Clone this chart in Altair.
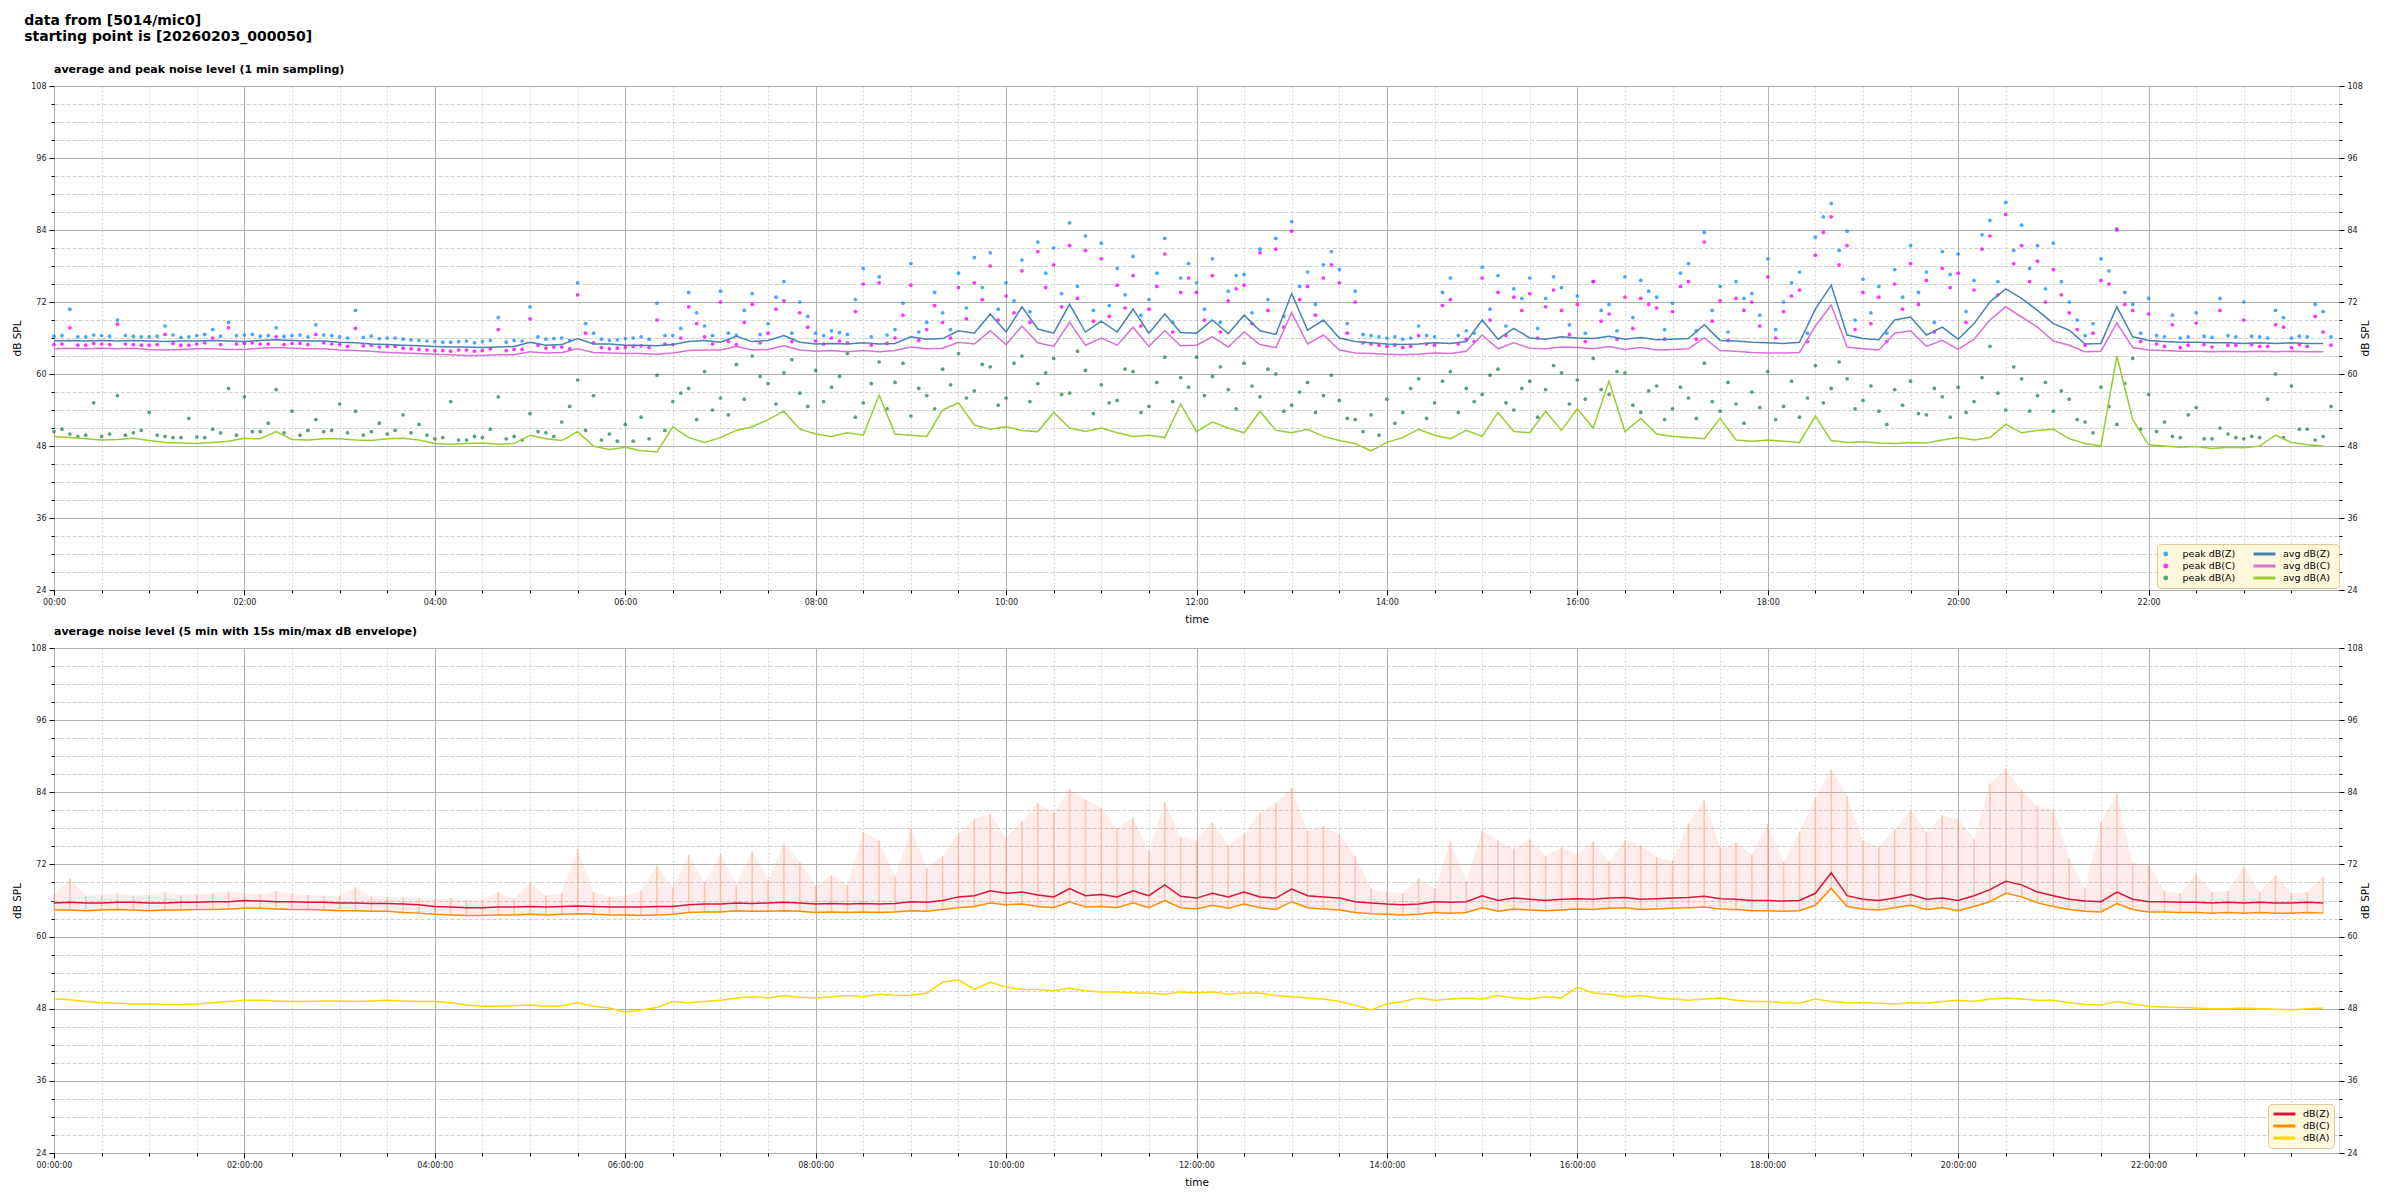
import altair as alt
import pandas as pd

# sampling grid: one reading every 10 minutes (minutes after midnight)
MINUTES = list(range(0, 1440, 10))
# extra peak readings taken half-way between (minute 5, 15, 25, ...)
MINUTES_HALF = list(range(5, 1440, 10))

# ---------------- top panel: 1-min averages and peaks (dB SPL) ----------------
avg_z = [
    65.5, 65.6, 65.5, 65.6, 65.5, 65.6,
    65.5, 65.4, 65.5, 65.5, 65.6, 65.5,
    65.4, 65.6, 65.7, 65.6, 65.5, 65.5,
    65.3, 65.2, 65.0, 64.9, 64.8, 64.7,
    64.6, 64.5, 64.5, 64.4, 64.5, 64.6,
    65.3, 64.8, 64.9, 65.9, 65.0, 65.0,
    64.8, 64.8, 64.7, 64.9, 65.4, 65.6,
    65.3, 66.3, 65.4, 65.6, 66.4, 65.3,
    65.0, 65.1, 65.0, 65.2, 65.0, 65.1,
    66.2, 65.8, 65.9, 67.2, 66.8, 70.0,
    67.0, 71.2, 67.5, 66.8, 71.6, 67.0,
    68.8, 67.0, 70.8, 66.8, 70.0, 66.9,
    66.8, 69.0, 66.7, 69.8, 67.2, 66.6,
    73.4, 67.3, 69.0, 66.0, 65.4, 65.2,
    65.0, 64.9, 65.0, 65.2, 65.1, 65.4,
    69.0, 65.8, 67.6, 66.0, 65.8, 66.2,
    66.0, 65.9, 66.3, 65.8, 66.1, 65.7,
    65.8, 65.9, 68.2, 65.6, 65.5, 65.3,
    65.2, 65.1, 65.3, 70.8, 74.8, 66.5,
    65.9, 65.7, 69.0, 69.5, 66.5, 67.8,
    65.8, 68.4, 72.0, 74.2, 72.6, 70.6,
    68.4, 67.3, 65.0, 65.1, 71.2, 66.2,
    65.6, 65.4, 65.3, 65.3, 65.2, 65.2,
    65.1, 65.2, 65.1, 65.2, 65.1, 65.1,
]
avg_c = [
    64.2, 64.3, 64.2, 64.3, 64.2, 64.3,
    64.1, 64.0, 64.1, 64.2, 64.2, 64.1,
    64.1, 64.3, 64.4, 64.3, 64.2, 64.2,
    64.0, 63.9, 63.8, 63.6, 63.5, 63.4,
    63.3, 63.2, 63.1, 63.1, 63.2, 63.2,
    63.7, 63.5, 63.6, 64.2, 63.6, 63.5,
    63.4, 63.4, 63.3, 63.5, 63.9, 64.0,
    64.0, 64.6, 64.0, 64.1, 64.7, 64.0,
    63.8, 63.9, 63.7, 63.9, 63.7, 63.9,
    64.5, 64.2, 64.3, 65.3, 65.0, 67.2,
    64.9, 68.0, 65.2, 64.6, 68.6, 64.8,
    66.0, 64.8, 67.8, 64.6, 67.2, 64.7,
    64.8, 66.2, 64.5, 67.0, 64.9, 64.4,
    70.2, 65.0, 66.5, 64.0, 63.5, 63.4,
    63.3, 63.2, 63.3, 63.5, 63.4, 63.8,
    66.5, 64.2, 65.2, 64.3, 64.2, 64.5,
    64.4, 64.2, 64.6, 64.1, 64.4, 64.0,
    64.1, 64.2, 66.0, 63.9, 63.8, 63.6,
    63.5, 63.5, 63.6, 68.0, 71.5, 64.5,
    64.2, 64.0, 66.8, 67.2, 64.6, 65.6,
    64.1, 65.8, 69.0, 71.2, 69.5, 67.8,
    65.5, 64.8, 63.7, 63.8, 68.5, 64.4,
    64.0, 63.9, 63.8, 63.8, 63.7, 63.8,
    63.7, 63.8, 63.7, 63.8, 63.7, 63.7,
]
avg_a = [
    49.6, 49.4, 49.2, 49.0, 49.1, 49.3,
    48.9, 48.6, 48.5, 48.4, 48.6, 48.8,
    49.3, 49.2, 50.4, 49.1, 49.0, 49.2,
    49.2, 49.0, 48.9, 49.2, 49.3, 49.0,
    48.4, 48.3, 48.4, 48.5, 48.3, 48.4,
    49.8, 49.2, 48.9, 50.4, 48.0, 47.4,
    47.8, 47.2, 47.0, 51.2, 49.4, 48.6,
    49.4, 50.6, 51.2, 52.4, 53.8, 50.8,
    50.0, 49.6, 50.2, 49.8, 56.5, 50.0,
    49.8, 49.6, 54.0, 55.2, 51.5, 50.8,
    51.2, 50.6, 50.4, 53.6, 51.0, 50.4,
    51.0, 50.2, 49.6, 49.8, 49.4, 55.0,
    50.4, 52.0, 51.0, 50.2, 53.8, 50.6,
    50.2, 50.8, 49.6, 48.9, 48.4, 47.2,
    48.6, 49.4, 50.8, 49.8, 49.2, 50.6,
    49.6, 53.6, 50.4, 50.2, 53.8, 50.6,
    54.2, 51.0, 58.8, 50.4, 52.6, 50.0,
    49.6, 49.4, 49.2, 52.6, 49.0, 48.8,
    49.0, 48.8, 48.6, 53.0, 48.9, 48.6,
    48.7, 48.5, 48.4, 48.6, 48.5, 49.0,
    49.4, 49.0, 49.4, 51.6, 50.2, 50.6,
    50.8, 49.2, 48.4, 48.0, 63.0, 52.4,
    48.2, 48.0, 47.8, 47.9, 47.6, 47.8,
    47.7, 48.0, 49.8, 48.6, 48.2, 48.0,
]
peak_z = [
    66.3, 70.8, 66.2, 66.4, 69.0, 66.3,
    66.2, 68.0, 66.1, 66.4, 67.4, 68.6,
    66.5, 66.3, 67.7, 66.4, 66.2, 66.5,
    66.2, 70.6, 66.3, 66.0, 65.8, 65.6,
    65.4, 65.3, 65.5, 65.4, 69.4, 65.6,
    71.2, 65.8, 66.0, 75.2, 66.8, 65.6,
    65.9, 66.2, 71.8, 66.4, 73.6, 68.0,
    73.8, 66.5, 73.4, 68.4, 75.4, 72.0,
    66.8, 67.2, 66.6, 77.6, 76.2, 67.4,
    78.4, 68.6, 70.2, 76.8, 79.4, 80.2,
    75.2, 79.0, 82.0, 81.0, 85.2, 83.0,
    81.8, 77.6, 79.6, 72.4, 82.6, 76.0,
    75.2, 79.2, 73.8, 76.6, 80.8, 82.6,
    85.4, 77.0, 78.2, 77.4, 73.8, 66.4,
    66.0, 65.8, 68.0, 66.2, 76.0, 67.2,
    77.8, 76.4, 74.2, 76.0, 72.6, 74.4,
    73.0, 75.4, 71.6, 76.2, 75.6, 72.8,
    71.8, 78.4, 83.6, 74.6, 75.4, 73.4,
    79.2, 72.0, 77.0, 82.8, 88.4, 83.8,
    75.8, 74.6, 77.4, 81.4, 77.0, 80.4,
    80.0, 75.6, 85.6, 88.6, 84.8, 81.4,
    81.8, 72.0, 66.4, 79.2, 84.2, 71.6,
    72.6, 66.2, 66.0, 70.2, 66.1, 66.4,
    72.0, 66.2, 70.6, 66.0, 66.2, 70.4,
]
peak_z_half = [
    66.4, 66.2, 66.5, 66.3, 66.4, 66.2,
    66.3, 66.5, 66.2, 66.6, 66.3, 66.4,
    66.6, 66.4, 66.3, 66.5, 68.2, 66.4,
    66.0, 66.1, 65.9, 66.0, 65.7, 65.5,
    65.3, 65.4, 65.2, 65.6, 65.3, 65.5,
    66.2, 65.9, 65.6, 68.4, 65.8, 65.7,
    66.0, 65.8, 66.4, 67.6, 70.2, 66.4,
    66.8, 70.6, 66.6, 72.8, 66.8, 69.6,
    66.4, 66.9, 72.4, 66.2, 66.5, 71.8,
    67.0, 73.6, 67.4, 71.0, 74.4, 70.8,
    72.2, 70.4, 76.8, 73.4, 74.6, 70.6,
    71.4, 73.2, 69.8, 76.8, 68.6, 78.4,
    70.8, 68.6, 76.4, 70.2, 72.4, 69.6,
    74.6, 71.6, 80.4, 68.4, 66.6, 66.2,
    66.2, 66.0, 66.4, 73.6, 66.4, 66.8,
    70.8, 68.0, 72.6, 67.6, 76.2, 68.2,
    66.8, 70.6, 67.2, 69.4, 73.8, 67.4,
    76.8, 67.2, 70.6, 67.0, 72.6, 69.8,
    67.4, 75.2, 66.8, 86.2, 80.6, 69.0,
    70.2, 66.8, 72.8, 73.6, 68.6, 76.6,
    70.4, 83.2, 75.4, 80.6, 77.6, 74.2,
    75.4, 69.0, 68.4, 77.2, 73.6, 66.8,
    66.4, 69.8, 66.2, 66.3, 72.6, 66.2,
    66.3, 66.0, 69.4, 66.3, 71.6, 66.2,
]
peak_c = [
    64.9, 67.7, 64.8, 65.0, 68.3, 64.9,
    64.8, 66.6, 64.8, 65.0, 66.0, 67.7,
    65.1, 65.0, 66.2, 65.1, 64.9, 65.2,
    64.9, 67.6, 64.8, 64.6, 64.3, 64.1,
    63.9, 63.8, 64.0, 63.9, 67.4, 64.1,
    69.2, 64.3, 64.5, 73.2, 65.2, 64.2,
    64.4, 64.7, 69.0, 64.9, 71.2, 66.2,
    72.0, 64.9, 71.6, 66.8, 72.2, 70.2,
    65.5, 66.0, 65.2, 75.0, 75.2, 66.0,
    74.8, 67.4, 68.6, 74.4, 75.2, 78.0,
    73.0, 77.2, 80.4, 78.2, 81.4, 80.6,
    79.2, 74.8, 76.4, 70.8, 80.0, 73.6,
    73.6, 76.4, 72.2, 74.8, 80.2, 80.8,
    83.8, 74.6, 76.0, 75.2, 72.0, 65.0,
    64.6, 64.4, 66.4, 64.8, 72.4, 65.8,
    76.0, 73.6, 72.8, 73.4, 71.2, 70.6,
    71.6, 75.4, 70.0, 72.8, 72.6, 71.0,
    70.4, 75.4, 82.0, 72.2, 72.6, 72.0,
    76.2, 70.4, 74.0, 79.8, 86.2, 81.4,
    73.6, 72.8, 75.0, 78.4, 75.6, 77.6,
    76.8, 74.0, 83.0, 86.6, 81.4, 78.8,
    77.4, 70.2, 64.8, 75.6, 84.0, 70.6,
    70.0, 64.6, 64.4, 68.5, 64.5, 64.8,
    69.0, 64.6, 68.2, 64.4, 64.6, 67.0,
]
peak_c_half = [
    65.0, 64.8, 65.1, 64.9, 65.0, 64.8,
    64.9, 65.1, 64.8, 65.2, 64.9, 65.0,
    65.2, 65.0, 64.9, 65.1, 66.6, 65.0,
    64.6, 64.7, 64.5, 64.6, 64.2, 64.0,
    63.9, 64.0, 63.8, 64.2, 63.9, 64.1,
    64.8, 64.5, 64.2, 66.8, 64.4, 64.3,
    64.6, 64.4, 65.0, 66.0, 68.4, 65.0,
    65.4, 68.6, 65.2, 70.8, 65.4, 67.8,
    65.0, 65.5, 70.4, 64.8, 65.1, 69.8,
    65.6, 71.4, 66.0, 69.2, 72.4, 69.0,
    70.2, 68.6, 74.4, 71.2, 72.6, 68.8,
    69.6, 71.0, 68.0, 74.6, 67.0, 76.0,
    69.0, 67.0, 74.2, 68.4, 70.6, 67.8,
    72.4, 69.8, 78.2, 66.8, 65.2, 64.8,
    64.8, 64.6, 65.0, 71.4, 65.0, 65.4,
    69.0, 66.4, 70.6, 66.0, 74.0, 66.6,
    65.4, 68.8, 65.8, 67.6, 71.6, 65.8,
    74.6, 65.8, 68.8, 65.6, 70.6, 68.0,
    66.0, 73.0, 65.4, 83.6, 78.2, 67.4,
    68.4, 65.4, 70.8, 71.6, 67.0, 74.4,
    68.6, 80.8, 73.2, 78.4, 75.4, 72.0,
    73.2, 67.4, 66.8, 75.0, 71.6, 65.4,
    65.0, 68.2, 64.8, 64.9, 70.6, 64.8,
    64.9, 64.6, 67.8, 64.9, 69.6, 64.8,
]
peak_a = [
    50.4, 50.0, 49.8, 49.6, 56.4, 50.2,
    53.6, 49.6, 49.4, 49.5, 50.8, 57.6,
    56.2, 50.4, 57.4, 53.8, 50.6, 50.4,
    55.0, 53.8, 50.4, 50.0, 53.2, 51.6,
    49.2, 55.4, 49.0, 49.4, 56.2, 49.6,
    53.4, 50.2, 52.0, 59.0, 56.4, 50.0,
    51.6, 52.8, 59.8, 55.4, 57.6, 60.4,
    56.0, 61.6, 63.0, 58.4, 60.2, 56.8,
    60.6, 57.8, 63.4, 55.2, 62.0, 58.6,
    53.0, 56.4, 60.8, 63.4, 57.2, 61.2,
    56.0, 63.0, 58.4, 62.6, 56.8, 60.6,
    58.2, 55.6, 60.4, 54.6, 62.8, 59.4,
    62.8, 59.6, 57.4, 61.8, 56.2, 60.0,
    54.8, 58.6, 56.4, 55.6, 52.4, 53.2,
    55.8, 53.6, 59.2, 55.2, 60.4, 57.6,
    56.6, 60.8, 54.0, 58.8, 57.4, 60.2,
    59.0, 62.6, 56.6, 60.2, 53.6, 58.0,
    54.2, 56.0, 61.8, 53.8, 55.0, 57.0,
    60.4, 54.6, 52.8, 61.4, 57.6, 59.2,
    55.6, 53.8, 57.4, 58.8, 53.2, 56.2,
    57.8, 55.4, 64.6, 54.0, 59.2, 56.4,
    53.8, 55.8, 52.0, 57.8, 51.6, 62.6,
    56.6, 52.0, 49.4, 54.4, 49.2, 50.0,
    49.2, 49.4, 60.0, 58.0, 50.8, 49.6,
]
peak_a_half = [
    50.8, 49.6, 55.2, 50.0, 49.8, 50.6,
    49.8, 49.4, 52.6, 49.4, 50.2, 49.8,
    50.4, 51.8, 50.2, 49.8, 52.4, 50.6,
    50.2, 49.8, 51.8, 50.6, 50.2, 49.8,
    49.4, 49.0, 49.6, 50.8, 49.2, 49.0,
    50.4, 49.6, 54.6, 50.6, 49.0, 48.8,
    48.8, 49.2, 50.6, 56.8, 52.4, 54.0,
    53.2, 55.8, 59.6, 55.0, 62.4, 54.6,
    55.4, 59.6, 52.8, 58.4, 54.2, 61.8,
    57.6, 54.2, 58.2, 56.0, 61.6, 54.8,
    61.8, 55.4, 60.2, 56.6, 63.8, 53.4,
    55.2, 60.8, 53.6, 58.6, 55.4, 57.8,
    56.4, 61.2, 54.2, 58.0, 60.8, 53.8,
    57.0, 53.6, 59.8, 52.6, 50.4, 49.8,
    51.8, 57.6, 52.6, 58.8, 53.6, 55.4,
    59.8, 55.2, 57.6, 52.8, 61.4, 55.0,
    55.8, 57.4, 60.4, 54.8, 57.2, 52.4,
    57.8, 52.6, 55.4, 58.6, 51.8, 54.4,
    52.4, 58.8, 56.0, 55.2, 62.0, 54.2,
    58.0, 51.6, 54.8, 53.4, 57.6, 52.8,
    53.6, 59.4, 56.8, 61.2, 53.8, 58.6,
    57.2, 52.4, 50.2, 54.6, 58.4, 50.8,
    50.4, 49.6, 53.2, 49.2, 51.0, 49.4,
    49.6, 55.8, 49.4, 50.8, 49.0, 54.6,
]

# ---------------- bottom panel: 5-min averages and 15 s max envelope ----------------
bot_z = [
    65.6, 65.7, 65.6, 65.6, 65.7, 65.7,
    65.6, 65.6, 65.7, 65.7, 65.8, 65.8,
    66.0, 65.9, 65.8, 65.8, 65.7, 65.7,
    65.6, 65.6, 65.5, 65.5, 65.4, 65.3,
    65.0, 64.9, 64.8, 64.8, 64.9, 64.9,
    65.0, 64.9, 65.0, 65.1, 65.0, 64.9,
    64.9, 64.9, 65.0, 65.0, 65.3, 65.4,
    65.4, 65.6, 65.5, 65.6, 65.7, 65.6,
    65.4, 65.5, 65.4, 65.5, 65.4, 65.5,
    65.8, 65.7, 66.0, 66.6, 66.8, 67.6,
    67.2, 67.4, 66.9, 66.6, 68.0, 66.8,
    67.0, 66.6, 67.6, 66.8, 68.6, 66.7,
    66.4, 67.2, 66.6, 67.4, 66.6, 66.4,
    67.9, 66.8, 66.6, 66.4, 65.8, 65.6,
    65.4, 65.3, 65.4, 65.8, 65.7, 65.8,
    66.8, 66.0, 66.4, 66.2, 66.0, 66.2,
    66.3, 66.2, 66.4, 66.5, 66.2, 66.3,
    66.4, 66.5, 66.7, 66.3, 66.2, 66.0,
    66.0, 65.9, 66.0, 67.2, 70.6, 66.8,
    66.2, 66.0, 66.4, 67.0, 66.2, 66.4,
    66.0, 66.8, 67.8, 69.2, 68.6, 67.4,
    66.8, 66.2, 65.9, 65.8, 67.4, 66.2,
    65.8, 65.8, 65.7, 65.7, 65.6, 65.7,
    65.6, 65.7, 65.6, 65.6, 65.7, 65.6,
]
bot_c = [
    64.4, 64.4, 64.3, 64.4, 64.5, 64.4,
    64.3, 64.4, 64.4, 64.5, 64.5, 64.6,
    64.7, 64.7, 64.6, 64.5, 64.5, 64.4,
    64.3, 64.3, 64.2, 64.2, 64.0, 63.9,
    63.7, 63.6, 63.5, 63.5, 63.6, 63.6,
    63.7, 63.6, 63.7, 63.8, 63.7, 63.6,
    63.6, 63.5, 63.6, 63.7, 64.0, 64.1,
    64.1, 64.3, 64.2, 64.2, 64.3, 64.2,
    64.0, 64.1, 64.0, 64.1, 64.0, 64.1,
    64.3, 64.2, 64.5, 64.8, 65.0, 65.6,
    65.3, 65.4, 65.0, 64.8, 65.8, 64.9,
    65.0, 64.8, 65.6, 64.8, 66.0, 64.8,
    64.6, 65.2, 64.7, 65.4, 64.8, 64.5,
    65.8, 64.8, 64.6, 64.4, 64.0, 63.8,
    63.7, 63.6, 63.7, 64.0, 63.9, 64.0,
    64.8, 64.2, 64.6, 64.4, 64.3, 64.4,
    64.6, 64.5, 64.7, 64.8, 64.5, 64.6,
    64.7, 64.8, 64.9, 64.6, 64.5, 64.3,
    64.3, 64.2, 64.3, 65.2, 68.0, 65.0,
    64.6, 64.4, 64.8, 65.2, 64.5, 64.8,
    64.3, 65.0, 65.8, 67.2, 66.6, 65.6,
    65.0, 64.5, 64.2, 64.1, 65.5, 64.5,
    64.1, 64.1, 64.0, 64.0, 63.9, 64.0,
    63.9, 64.0, 63.9, 63.9, 64.0, 63.9,
]
bot_a = [
    49.6, 49.5, 49.2, 49.0, 48.9, 48.8,
    48.8, 48.7, 48.7, 48.8, 49.0, 49.2,
    49.4, 49.4, 49.3, 49.2, 49.2, 49.3,
    49.3, 49.2, 49.3, 49.4, 49.3, 49.2,
    49.2, 49.0, 48.6, 48.4, 48.4, 48.5,
    48.6, 48.4, 48.5, 49.0, 48.4, 48.1,
    47.4, 47.8, 48.2, 49.2, 49.0, 49.2,
    49.4, 49.8, 50.0, 49.8, 50.2, 49.9,
    49.8, 50.0, 50.2, 50.0, 50.4, 50.2,
    50.2, 50.6, 52.4, 52.8, 51.2, 52.4,
    51.6, 51.2, 51.2, 51.0, 51.4, 51.0,
    50.8, 50.8, 50.6, 50.6, 50.4, 50.8,
    50.6, 50.8, 50.4, 50.6, 50.6, 50.2,
    50.0, 49.8, 49.6, 49.2, 48.6, 47.8,
    48.8, 49.2, 49.8, 49.4, 49.6, 49.8,
    49.6, 50.2, 49.8, 49.6, 50.0, 49.8,
    51.6, 50.6, 50.4, 50.0, 50.2, 49.8,
    49.6, 49.4, 49.6, 49.8, 49.4, 49.2,
    49.2, 49.0, 48.9, 49.6, 49.2, 49.0,
    49.0, 48.9, 48.8, 49.0, 48.9, 49.2,
    49.4, 49.2, 49.6, 49.8, 49.6, 49.4,
    49.4, 49.0, 48.7, 48.6, 49.2, 48.8,
    48.4, 48.3, 48.2, 48.1, 48.0, 48.0,
    48.1, 48.0, 47.9, 47.8, 48.0, 48.1,
]
env_max = [
    67.0, 69.6, 66.8, 66.9, 67.2, 66.8,
    66.9, 67.4, 66.9, 67.0, 67.2, 67.5,
    67.2, 67.0, 67.6, 67.1, 66.9, 66.8,
    66.8, 68.2, 66.7, 66.6, 66.5, 66.4,
    66.2, 66.4, 66.1, 66.2, 67.4, 66.3,
    69.0, 66.8, 67.2, 74.6, 67.4, 66.6,
    66.8, 67.6, 71.8, 68.2, 73.6, 69.0,
    73.8, 68.6, 74.2, 69.4, 75.4, 72.4,
    68.4, 70.2, 68.6, 77.4, 76.0, 70.0,
    78.0, 71.4, 73.4, 77.2, 79.6, 80.4,
    76.4, 79.2, 82.2, 80.6, 84.6, 82.8,
    81.4, 78.0, 79.8, 74.2, 82.4, 76.6,
    76.0, 79.0, 75.2, 77.0, 80.6, 82.2,
    84.8, 77.6, 78.4, 77.0, 73.4, 68.0,
    67.4, 67.2, 69.6, 68.0, 75.8, 69.2,
    77.6, 76.0, 74.6, 76.2, 73.4, 74.8,
    73.6, 75.8, 72.4, 76.0, 75.2, 73.2,
    72.6, 78.8, 82.8, 74.8, 75.6, 73.6,
    78.8, 72.4, 77.4, 83.0, 87.8, 83.4,
    76.0, 75.0, 77.8, 81.0, 77.4, 80.2,
    79.6, 76.2, 85.4, 88.0, 84.4, 81.6,
    81.2, 73.0, 68.0, 79.0, 83.8, 72.2,
    72.0, 67.6, 67.2, 70.4, 67.4, 67.6,
    71.6, 67.4, 70.2, 67.2, 67.4, 70.0,
]

for arr in (avg_z, avg_c, avg_a, peak_z, peak_c, peak_a, peak_z_half, peak_c_half, peak_a_half,
            bot_z, bot_c, bot_a, env_max):
    assert len(arr) == 144

HOURS = [m / 60 for m in MINUTES]
HOURS_HALF = [m / 60 for m in MINUTES_HALF]

PEAK_DOMAIN = ["peak dB(Z)", "peak dB(C)", "peak dB(A)"]
PEAK_COLORS = ["#1e90ff", "#ff00ff", "#2e8b57"]
AVG_DOMAIN = ["avg dB(Z)", "avg dB(C)", "avg dB(A)"]
AVG_COLORS = ["#4682b4", "#da70d6", "#9acd32"]
BOT_DOMAIN = ["dB(Z)", "dB(C)", "dB(A)"]
BOT_COLORS = ["#dc143c", "#ff8c00", "#ffd700"]

MAJOR_X = list(range(0, 24, 2))
MINOR_X = [h / 2 for h in range(1, 48) if h % 4 != 0]
MAJOR_Y = list(range(24, 109, 12))
MINOR_Y = [v for v in range(27, 108, 3) if v % 12 != 0]

peaks = pd.DataFrame({
    "t": (HOURS + HOURS_HALF) * 3,
    "v": peak_z + peak_z_half + peak_c + peak_c_half + peak_a + peak_a_half,
    "s": [PEAK_DOMAIN[0]] * 288 + [PEAK_DOMAIN[1]] * 288 + [PEAK_DOMAIN[2]] * 288,
})
avgs = pd.DataFrame({
    "t": HOURS * 3,
    "v": avg_z + avg_c + avg_a,
    "s": [AVG_DOMAIN[0]] * 144 + [AVG_DOMAIN[1]] * 144 + [AVG_DOMAIN[2]] * 144,
})
bot_lines = pd.DataFrame({
    "t": HOURS * 3,
    "v": bot_z + bot_c + bot_a,
    "s": [BOT_DOMAIN[0]] * 144 + [BOT_DOMAIN[1]] * 144 + [BOT_DOMAIN[2]] * 144,
})
env = pd.DataFrame({"t": HOURS, "lo": bot_c, "hi": env_max})

xs = alt.Scale(domain=[0, 24], nice=False, zero=False)
ys = alt.Scale(domain=[24, 108], nice=False, zero=False)

LBL = dict(labelFontSize=8, labelColor="#222222", labelFont="DejaVu Sans")
TTL = dict(titleFontSize=10.5, titleFontWeight="normal", titleColor="black", titleFont="DejaVu Sans")


def x_major(suffix):
    return alt.Axis(values=MAJOR_X, orient="bottom", grid=True, gridColor="#b0b0b0", gridWidth=1,
                    tickSize=5, tickColor="black", domain=False, title="time", titlePadding=8,
                    labelPadding=3, labelFlush=False,
                    labelExpr="(datum.value < 10 ? '0' : '') + datum.value + '" + suffix + "'",
                    **LBL, **TTL)


x_minor = alt.Axis(values=MINOR_X, orient="bottom", grid=True, gridColor="#d2cdbf", gridDash=[2, 2],
                   gridWidth=0.8, tickSize=3, tickColor="black", domain=False, labels=False, title=None)


def y_major(orient):
    return alt.Axis(values=MAJOR_Y, orient=orient, grid=(orient == "left"), gridColor="#b0b0b0",
                    gridWidth=1, tickSize=5, tickColor="black", domain=False, title="dB SPL",
                    titleAngle=270, titlePadding=8, labelPadding=3, labelFlush=False, **LBL, **TTL)


def y_minor(orient):
    return alt.Axis(values=MINOR_Y, orient=orient, grid=(orient == "left"), gridColor="#c2c2c2",
                    gridDash=[4, 2], gridWidth=0.8, tickSize=3, tickColor="black", domain=False,
                    labels=False, title=None)


def axis_layers(data, suffix):
    base = alt.Chart(data).mark_point(opacity=0)
    return [
        base.encode(x=alt.X("t:Q", scale=xs, axis=x_minor), y=alt.Y("v:Q", scale=ys, axis=y_minor("left"))),
        base.encode(x=alt.X("t:Q", scale=xs, axis=x_major(suffix)), y=alt.Y("v:Q", scale=ys, axis=y_major("left"))),
        base.encode(x=alt.X("t:Q", scale=xs, axis=None), y=alt.Y("v:Q", scale=ys, axis=y_minor("right"))),
        base.encode(x=alt.X("t:Q", scale=xs, axis=None), y=alt.Y("v:Q", scale=ys, axis=y_major("right"))),
    ]


LEG_TXT = dict(labelFontSize=9.5, labelColor="black", labelFont="DejaVu Sans", rowPadding=0, clipHeight=12)

# points legend: a small invisible title at its far right widens its frame so that it holds both columns
leg_pts = alt.Legend(title=".", titleOrient="right", titleOpacity=0, titleFontSize=9.5,
                     titlePadding=96, orient="none", legendX=2103, legendY=458, fillColor="#fff8dc",
                     strokeColor="#dcc79e", cornerRadius=4, padding=4, symbolType="circle", symbolSize=24,
                     symbolStrokeWidth=0, labelOffset=12, **LEG_TXT)
leg_avg = alt.Legend(title=None, orient="none", legendX=2194, legendY=458, padding=4, symbolType="stroke",
                     symbolSize=480, symbolStrokeWidth=3, labelOffset=6, **LEG_TXT)

point_layer = alt.Chart(peaks).mark_point(filled=True, size=14, opacity=0.8).encode(
    x=alt.X("t:Q", scale=xs, axis=None),
    y=alt.Y("v:Q", scale=ys, axis=None),
    color=alt.Color("s:N", scale=alt.Scale(domain=PEAK_DOMAIN, range=PEAK_COLORS), legend=leg_pts),
)
avg_layer = alt.Chart(avgs).mark_line(strokeWidth=1.5).encode(
    x=alt.X("t:Q", scale=xs, axis=None),
    y=alt.Y("v:Q", scale=ys, axis=None),
    color=alt.Color("s:N", scale=alt.Scale(domain=AVG_DOMAIN, range=AVG_COLORS), legend=leg_avg),
)

top = alt.layer(*axis_layers(avgs, ":00"), point_layer, avg_layer).resolve_axis(
    x="independent", y="independent"
).resolve_scale(color="independent").properties(
    width=2285, height=504,
    title=alt.TitleParams("average and peak noise level (1 min sampling)", anchor="start", frame="group",
                          fontSize=11, fontWeight="bold", font="DejaVu Sans", color="black", offset=7),
)

leg_bot = alt.Legend(title=None, orient="bottom-right", offset=5, fillColor="#fff8dc", strokeColor="#dcc79e",
                     cornerRadius=4, padding=4, symbolType="stroke", symbolSize=480, symbolStrokeWidth=3,
                     labelOffset=6, **LEG_TXT)

env_area = alt.Chart(env).mark_area(color="#fa8072", opacity=0.14).encode(
    x=alt.X("t:Q", scale=xs, axis=None),
    y=alt.Y("lo:Q", scale=ys, axis=None),
    y2="hi:Q",
)
env_rules = alt.Chart(env).mark_rule(color="#f4a582", opacity=0.55, strokeWidth=1.5).encode(
    x=alt.X("t:Q", scale=xs, axis=None),
    y=alt.Y("lo:Q", scale=ys, axis=None),
    y2="hi:Q",
)
bot_layer = alt.Chart(bot_lines).mark_line(strokeWidth=1.5).encode(
    x=alt.X("t:Q", scale=xs, axis=None),
    y=alt.Y("v:Q", scale=ys, axis=None),
    color=alt.Color("s:N", scale=alt.Scale(domain=BOT_DOMAIN, range=BOT_COLORS), legend=leg_bot),
)

bottom = alt.layer(*axis_layers(bot_lines, ":00:00"), env_area, env_rules, bot_layer).resolve_axis(
    x="independent", y="independent"
).properties(
    width=2285, height=505,
    title=alt.TitleParams("average noise level (5 min with 15s min/max dB envelope)", anchor="start",
                          frame="group", fontSize=11, fontWeight="bold", font="DejaVu Sans",
                          color="black", offset=7),
)

chart = alt.vconcat(top, bottom, spacing=0).resolve_scale(color="independent").properties(
    title=alt.TitleParams(["data from [5014/mic0]", "starting point is [20260203_000050]"],
                          anchor="start", fontSize=14, fontWeight="bold", font="DejaVu Sans",
                          color="black", lineHeight=16, offset=20, dx=12),
    padding={"left": 4, "top": 5, "right": 4, "bottom": 4},
).configure_view(fill="#fff8dc", stroke="black", strokeWidth=1.3).configure(font="DejaVu Sans")

chart.save("out.html", embed_options={"renderer": "svg", "actions": False})
